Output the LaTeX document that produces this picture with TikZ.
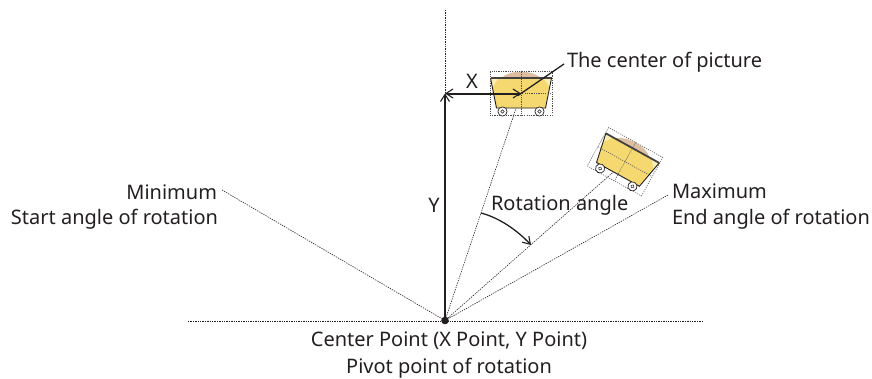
\documentclass[tikz,border=0pt]{standalone}
\usepackage{fontspec}
\setmainfont{Noto Sans}
\usetikzlibrary{arrows.meta}
\definecolor{cartfill}{RGB}{245,216,112}
\definecolor{cartlight}{RGB}{251,238,178}
\definecolor{dirt}{RGB}{222,190,160}
\definecolor{ink}{RGB}{35,31,32}
\tikzset{
  lbl/.style={font=\fontsize{20}{24}\selectfont,text=ink,inner sep=0pt,outer sep=0pt},
  guide/.style={draw=ink,line width=0.6pt,dash pattern=on 1.3pt off 1.1pt},
  thin guide/.style={draw=ink!80,line width=0.5pt,dash pattern=on 1.2pt off 1.1pt},
  bar/.style={draw=ink,line width=2pt},
  head/.style={-{Straight Barb[length=7pt,width=9pt,line width=1.1pt]}},
}
\newcommand{\cartart}{%
    \fill[dirt] (-20,-15.5) .. controls (-10,-24) and (10,-24) .. (20,-15.5) -- cycle;
    \fill[cartfill] (-30.5,-15.5) -- (30.5,-15.5) -- (24.5,14.5) -- (-24.5,14.5) -- cycle;
    \fill[cartlight] (-30.5,-15.5) -- (-22,-15.5) -- (-28.7,-6.5) -- cycle;
    \fill[cartlight] (30.5,-15.5) -- (22,-15.5) -- (28.7,-6.5) -- cycle;
    \draw[ink!85,line width=1.8pt] (-30.5,-15.5) -- (30.5,-15.5);
    \draw[ink,line width=0.9pt] (-30.5,-15.5) -- (-24.5,14.5) -- (24.5,14.5) -- (30.5,-15.5);
    \foreach \wx in {-18.5,18.5}{
      \draw[ink,line width=0.7pt,fill=white] (\wx,18) circle (4.6);
      \draw[ink,line width=0.5pt] (\wx,18) circle (1.7);
    }
    \draw[thin guide] (-31,-22) rectangle (31,22);
    \draw[thin guide] (0,-22) -- (0,22);
    \draw[thin guide] (-31,0) -- (31,0);
}
\begin{document}
\begin{tikzpicture}[x=1pt,y=-1pt]
\useasboundingbox (0,0) rectangle (872,378);
\coordinate (pivot) at (445,320.5);
\coordinate (vtop) at (445,10);
\coordinate (hleft) at (188,321);
\coordinate (hright) at (703,321);
\coordinate (minend) at (222,190);
\coordinate (maxend) at (668,195);
\coordinate (cone) at (521,93.5);
\coordinate (ctwo) at (625,161.7);
\coordinate (corner) at (445,93.5);
\coordinate (arcs) at (481,213);
\coordinate (arce) at (531,245);
\coordinate (lead) at (564,64);

\draw[guide] (vtop) -- (pivot);
\draw[guide] (hleft) -- (hright);
\draw[guide] (minend) -- (pivot);
\draw[guide] (maxend) -- (pivot);
\draw[guide] (cone) -- (pivot);
\draw[guide] (ctwo) -- (pivot);

\begin{scope}[shift={(cone)}]
\cartart
\end{scope}
\begin{scope}[shift={(ctwo)},rotate=-29]
\cartart
\end{scope}

\draw[bar,head] (pivot) -- (corner);
\draw[bar,{Straight Barb[length=7pt,width=9pt,line width=1.1pt]}-{Straight Barb[length=7pt,width=9pt,line width=1.1pt]}] (corner) -- (cone);
\draw[ink,line width=1.3pt] (cone) ++(-3,2) -- (lead);
\draw[ink,line width=1.3pt,head] (arcs) .. controls (500,218) and (518,231) .. (arce);
\fill[ink] (pivot) circle (3.8);

\node[lbl,anchor=center] (lx) at (472,81) {X};
\node[lbl,anchor=center] (ly) at (434,205) {Y};
\node[lbl,anchor=west] (lcp) at (567,62) {The center of picture};
\node[lbl,anchor=west] (lra) at (491,205) {Rotation angle};
\node[lbl,anchor=east] (lmin) at (217,192) {Minimum};
\node[lbl,anchor=east] (lsa) at (218,219) {Start angle of rotation};
\node[lbl,anchor=west] (lmax) at (672,191) {Maximum};
\node[lbl,anchor=west] (lea) at (672,219) {End angle of rotation};
\node[lbl,anchor=center] (lc) at (449,341) {Center Point (X Point, Y Point)};
\node[lbl,anchor=center] (lpp) at (449,368) {Pivot point of rotation};
\end{tikzpicture}
\end{document}
